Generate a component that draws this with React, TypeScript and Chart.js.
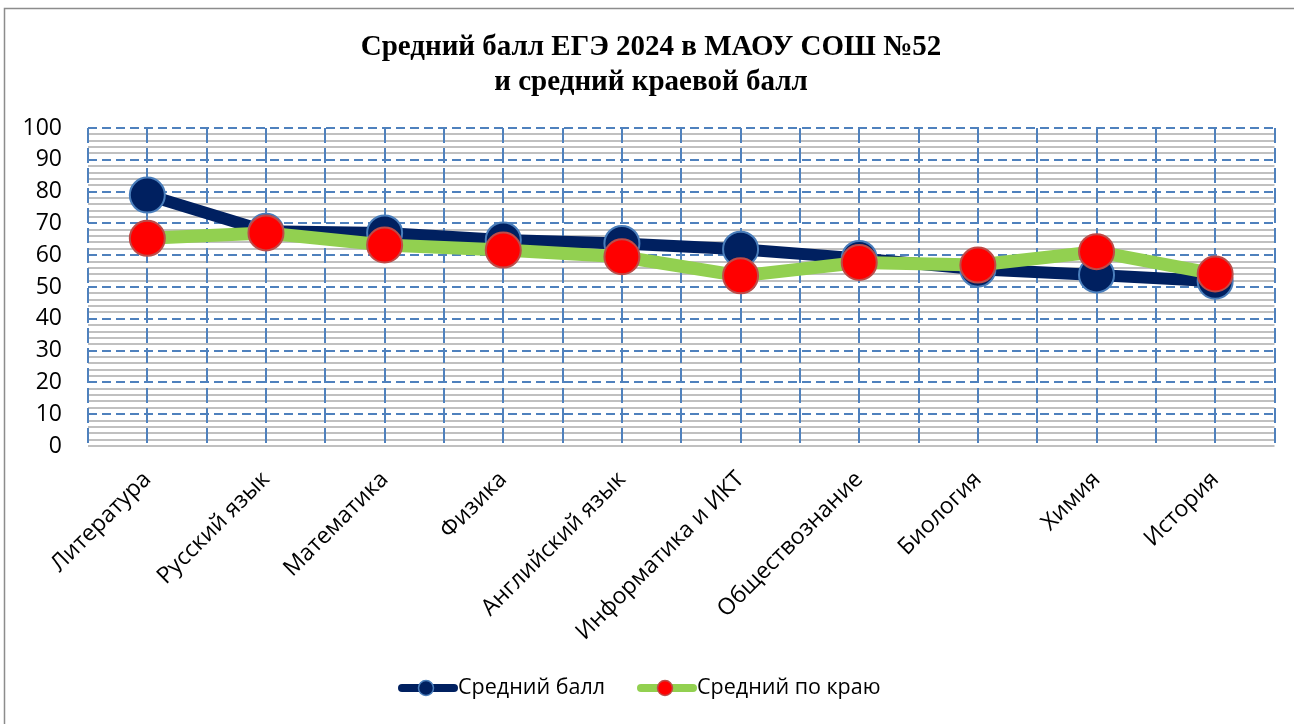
import React, { useEffect, useRef } from "react";
import { Chart, registerables } from "chart.js";

Chart.register(...registerables);

const titleLines = ["Средний балл ЕГЭ 2024 в МАОУ СОШ №52", "и средний краевой балл"];
const categories = [
  "Литература",
  "Русский язык",
  "Математика",
  "Физика",
  "Английский язык",
  "Информатика и ИКТ",
  "Обществознание",
  "Биология",
  "Химия",
  "История",
];
const schoolLabel = "Средний балл";
const schoolAvg = [78.9, 67.5, 67, 64.8, 63.7, 61.9, 59, 55.6, 53.8, 51.8];
const regionLabel = "Средний по краю";
const regionAvg = [65.3, 67, 63.2, 61.6, 59.5, 53.5, 57.7, 56.9, 61.1, 54.1];
const yMin = 0;
const yMax = 100;
const yStep = 10;
const yMinorStep = 2;

const NAVY = "#002060";
const NAVY_EDGE = "#4a7ebb";
const GREEN = "#92d050";
const RED = "#ff0000";
const RED_EDGE = "#be4b48";
const GRID_BLUE = "#4f81bd";
const GRID_GRAY = "#c0c0c0";
const FONT = "'Open Sans', 'DejaVu Sans', sans-serif";

const framePlugin = {
  id: "frame",
  beforeDraw(chart: any) {
    const { ctx } = chart;
    ctx.save();
    ctx.fillStyle = "#ffffff";
    ctx.fillRect(0, 0, chart.width, chart.height);
    ctx.strokeStyle = "#8c8c8c";
    ctx.lineWidth = 1.5;
    ctx.strokeRect(4.5, 8.5, chart.width + 20, chart.height + 20);
    ctx.restore();
  },
};

const gridPlugin = {
  id: "excelGrid",
  beforeDatasetsDraw(chart: any) {
    const { ctx, chartArea: a, scales } = chart;
    const x = scales.x;
    const y = scales.y;
    ctx.save();
    ctx.strokeStyle = GRID_GRAY;
    ctx.lineWidth = 2;
    for (let v = yMin; v <= yMax; v += yMinorStep) {
      if (v % yStep === 0 && v !== yMin) continue;
      const py = Math.round(y.getPixelForValue(v));
      ctx.beginPath();
      ctx.moveTo(a.left, py);
      ctx.lineTo(a.right, py);
      ctx.stroke();
    }
    ctx.strokeStyle = GRID_BLUE;
    ctx.lineWidth = 2;
    ctx.setLineDash([15, 5]);
    for (let i = 0; i <= categories.length * 2; i++) {
      const px = Math.round(x.getPixelForValue(-0.5 + i * 0.5));
      ctx.beginPath();
      ctx.moveTo(px, a.top);
      ctx.lineTo(px, a.bottom);
      ctx.stroke();
    }
    ctx.setLineDash([9, 5]);
    for (let v = yMin + yStep; v <= yMax; v += yStep) {
      const py = Math.round(y.getPixelForValue(v));
      ctx.beginPath();
      ctx.moveTo(a.left, py);
      ctx.lineTo(a.right, py);
      ctx.stroke();
    }
    ctx.restore();
  },
};

const titleLegendPlugin = {
  id: "titleLegend",
  afterDraw(chart: any) {
    const { ctx } = chart;
    ctx.save();
    ctx.fillStyle = "#000000";
    ctx.textAlign = "center";
    ctx.textBaseline = "middle";
    ctx.font = "bold 29px 'Liberation Serif', 'Times New Roman', serif";
    ctx.fillText(titleLines[0], 651, 48);
    ctx.fillText(titleLines[1], 651, 83);

    const ly = 688;
    const items = [
      { label: schoolLabel, line: NAVY, fill: NAVY, edge: NAVY_EDGE, x0: 398 },
      { label: regionLabel, line: GREEN, fill: RED, edge: RED_EDGE, x0: 637 },
    ];
    ctx.font = `21.5px ${FONT}`;
    ctx.textAlign = "left";
    for (const it of items) {
      ctx.strokeStyle = it.line;
      ctx.lineWidth = 8;
      ctx.lineCap = "round";
      ctx.beginPath();
      ctx.moveTo(it.x0 + 4, ly);
      ctx.lineTo(it.x0 + 56, ly);
      ctx.stroke();
      ctx.beginPath();
      ctx.arc(it.x0 + 28, ly, 7.5, 0, Math.PI * 2);
      ctx.fillStyle = it.fill;
      ctx.fill();
      ctx.lineWidth = 1.5;
      ctx.strokeStyle = it.edge;
      ctx.stroke();
      ctx.fillStyle = "#000000";
      ctx.fillText(it.label, it.x0 + 60, ly);
    }
    ctx.restore();
  },
};

export default function App() {
  const canvasRef = useRef<HTMLCanvasElement | null>(null);

  useEffect(() => {
    const canvas = canvasRef.current;
    if (!canvas) return;
    const chart = new Chart(canvas, {
      type: "line",
      data: {
        labels: categories,
        datasets: [
          {
            label: schoolLabel,
            data: schoolAvg,
            order: 1,
            borderColor: NAVY,
            borderWidth: 12,
            borderJoinStyle: "round",
            pointRadius: 17.5,
            pointHoverRadius: 17.5,
            pointBackgroundColor: NAVY,
            pointBorderColor: NAVY_EDGE,
            pointBorderWidth: 2,
            tension: 0,
            clip: false,
          },
          {
            label: regionLabel,
            data: regionAvg,
            order: 0,
            borderColor: GREEN,
            borderWidth: 13,
            borderJoinStyle: "round",
            pointRadius: 17.5,
            pointHoverRadius: 17.5,
            pointBackgroundColor: RED,
            pointBorderColor: RED_EDGE,
            pointBorderWidth: 2,
            tension: 0,
            clip: false,
          },
        ],
      },
      options: {
        animation: false,
        responsive: true,
        maintainAspectRatio: false,
        layout: { padding: { left: 20, right: 19, top: 128, bottom: 78 } },
        plugins: {
          legend: { display: false },
          title: { display: false },
          tooltip: { enabled: false },
        },
        events: [],
        scales: {
          x: {
            type: "category",
            offset: true,
            grid: { display: false, drawTicks: false },
            border: { display: false },
            ticks: {
              minRotation: 45,
              maxRotation: 45,
              autoSkip: false,
              padding: 20,
              color: "#000000",
              font: { family: FONT, size: 23 },
            },
            afterFit(scale: any) {
              scale.height = 200;
            },
          },
          y: {
            type: "linear",
            min: yMin,
            max: yMax,
            grid: { display: false, drawTicks: false },
            border: { display: false },
            ticks: {
              stepSize: yStep,
              padding: 26,
              color: "#000000",
              font: { family: FONT, size: 23 },
            },
            afterFit(scale: any) {
              scale.width = 68;
            },
          },
        },
      },
      plugins: [framePlugin, gridPlugin, titleLegendPlugin],
    } as any);
    return () => chart.destroy();
  }, []);

  return (
    <div style={{ position: "absolute", left: 0, top: 0, width: 1294, height: 724 }}>
      <canvas ref={canvasRef} />
    </div>
  );
}
